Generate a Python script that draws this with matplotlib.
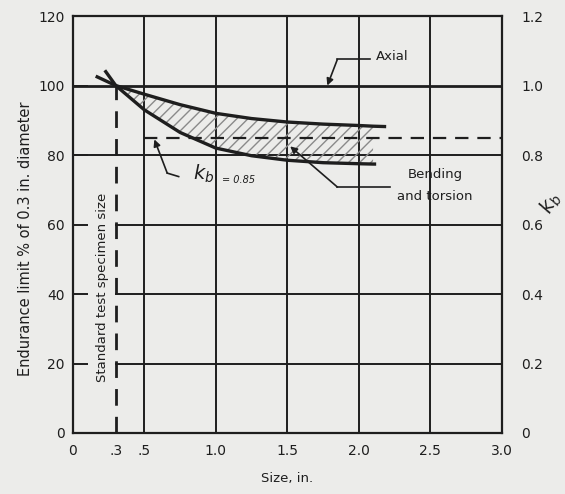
import matplotlib.pyplot as plt

# size effect on endurance limit
# band between the two bending/torsion curves
band_size = [0.3, 0.5, 0.75, 1.0, 1.25, 1.5, 1.75, 2.0, 2.1]
band_upper = [100, 97.5, 94.5, 92.0, 90.5, 89.5, 88.9, 88.5, 88.3]
band_lower = [100, 93.0, 86.5, 82.0, 79.8, 78.5, 77.8, 77.5, 77.4]
# curve ends beyond the band (left crossing stubs and right tails)
upper_left = (0.17, 102.5)
upper_right = (2.18, 88.2)
lower_left = (0.23, 104.0)
lower_right = (2.11, 77.4)

axial = 100
kb = 0.85
std_size = 0.3

xticks = [0, 0.3, 0.5, 1.0, 1.5, 2.0, 2.5, 3.0]
xticklabels = ['0', '.3', '.5', '1.0', '1.5', '2.0', '2.5', '3.0']
yticks = [0, 20, 40, 60, 80, 100, 120]
kticks = [0, 0.2, 0.4, 0.6, 0.8, 1.0, 1.2]
klabels = ['0', '0.2', '0.4', '0.6', '0.8', '1.0', '1.2']

plt.rcParams['font.family'] = ['DejaVu Sans']
ink = '#1e1e1e'
paper = '#ececea'

fig = plt.figure(figsize=(5.65, 4.94), dpi=100, facecolor=paper)
ax = fig.add_axes([0.129, 0.1235, 0.759, 0.844], facecolor=paper)
ax2 = ax.twinx()

ax.set_xlim(0, 3.0)
ax.set_ylim(0, 120)

# grid (lower horizontal lines start at the specimen-size line)
for gx in [0.5, 1.0, 1.5, 2.0, 2.5]:
    ax.axvline(gx, color=ink, lw=1.4, zorder=1)
for gy in [20, 40, 60]:
    ax.plot([std_size, 3.0], [gy, gy], color=ink, lw=1.4, zorder=1)
ax.axhline(80, color=ink, lw=1.4, zorder=1)

# axial line
ax.axhline(axial, color=ink, lw=2.0, zorder=2)

# bending and torsion band
ax.fill_between(band_size, band_lower, band_upper, facecolor='none',
                edgecolor='#8a8a8a', hatch='///', lw=0, zorder=2)
up_x = [upper_left[0]] + band_size + [upper_right[0]]
up_y = [upper_left[1]] + band_upper + [upper_right[1]]
lo_x = [lower_left[0]] + band_size + [lower_right[0]]
lo_y = [lower_left[1]] + band_lower + [lower_right[1]]
ax.plot(up_x, up_y, color=ink, lw=2.4, zorder=3)
ax.plot(lo_x, lo_y, color=ink, lw=2.4, zorder=3)

# kb = 0.85 dashed line
ax.plot([0.5, 3.0], [kb * 100, kb * 100], color=ink, lw=1.6,
        ls=(0, (6, 4)), zorder=3)

# standard specimen size
ax.plot([std_size, std_size], [0, 100], color=ink, lw=2.0,
        ls=(0, (6, 4)), zorder=3)
ax.text(0.21, 42, 'Standard test specimen size', rotation=90, ha='center',
        va='center', fontsize=9.5, color=ink)

arrow = dict(arrowstyle='-|>', color=ink, lw=1.2, mutation_scale=10,
             shrinkA=0, shrinkB=0)

# Axial leader
ax.plot([1.85, 2.08], [107.5, 107.5], color=ink, lw=1.2)
ax.annotate('', xy=(1.78, axial), xytext=(1.85, 107.5), arrowprops=arrow)
ax.text(2.12, 108.5, 'Axial', fontsize=9.5, color=ink, va='center')

# Bending and torsion leader
ax.plot([1.85, 2.22], [70.8, 70.8], color=ink, lw=1.2)
ax.annotate('', xy=(1.52, 82.5), xytext=(1.85, 70.8), arrowprops=arrow)
ax.text(2.34, 74.5, 'Bending', fontsize=9.5, color=ink, va='center')
ax.text(2.27, 68.0, 'and torsion', fontsize=9.5, color=ink, va='center')

# kb leader
ax.plot([0.66, 0.74], [74.8, 73.8], color=ink, lw=1.2)
ax.annotate('', xy=(0.57, 84.5), xytext=(0.66, 74.8), arrowprops=arrow)
ax.text(0.84, 74.5, '$k_b$', fontsize=14, color=ink, va='center')
ax.text(1.04, 72.8, '= 0.85', fontsize=7, style='italic', color=ink,
        va='center')

ax.set_xticks(xticks)
ax.set_xticklabels(xticklabels)
ax.set_yticks(yticks)
ax.yaxis.set_ticks_position('left')
ax.tick_params(axis='y', which='major', direction='in', length=11,
               width=1.4, color=ink, labelcolor=ink, labelsize=10, pad=6)
ax.tick_params(axis='x', length=0, labelcolor=ink, labelsize=10, pad=8)
for s in ax.spines.values():
    s.set_color(ink)
    s.set_linewidth(1.6)

ax.set_xlabel('Size, in.', fontsize=9.5, color=ink, labelpad=10)
ax.set_ylabel('Endurance limit % of 0.3 in. diameter', fontsize=10.5,
              color=ink)
ax.yaxis.set_label_coords(-0.092, 0.465)

ax2.set_ylim(0, 1.2)
ax2.set_yticks(kticks)
ax2.set_yticklabels(klabels)
ax2.tick_params(length=0, labelcolor=ink, labelsize=10, pad=14)
for s in ax2.spines.values():
    s.set_visible(False)
ax2.text(1.115, 0.55, '$k_b$', transform=ax2.transAxes, fontsize=14,
         color=ink, rotation=60, ha='center', va='center')

fig.savefig('out.png', dpi=100, facecolor=paper)
